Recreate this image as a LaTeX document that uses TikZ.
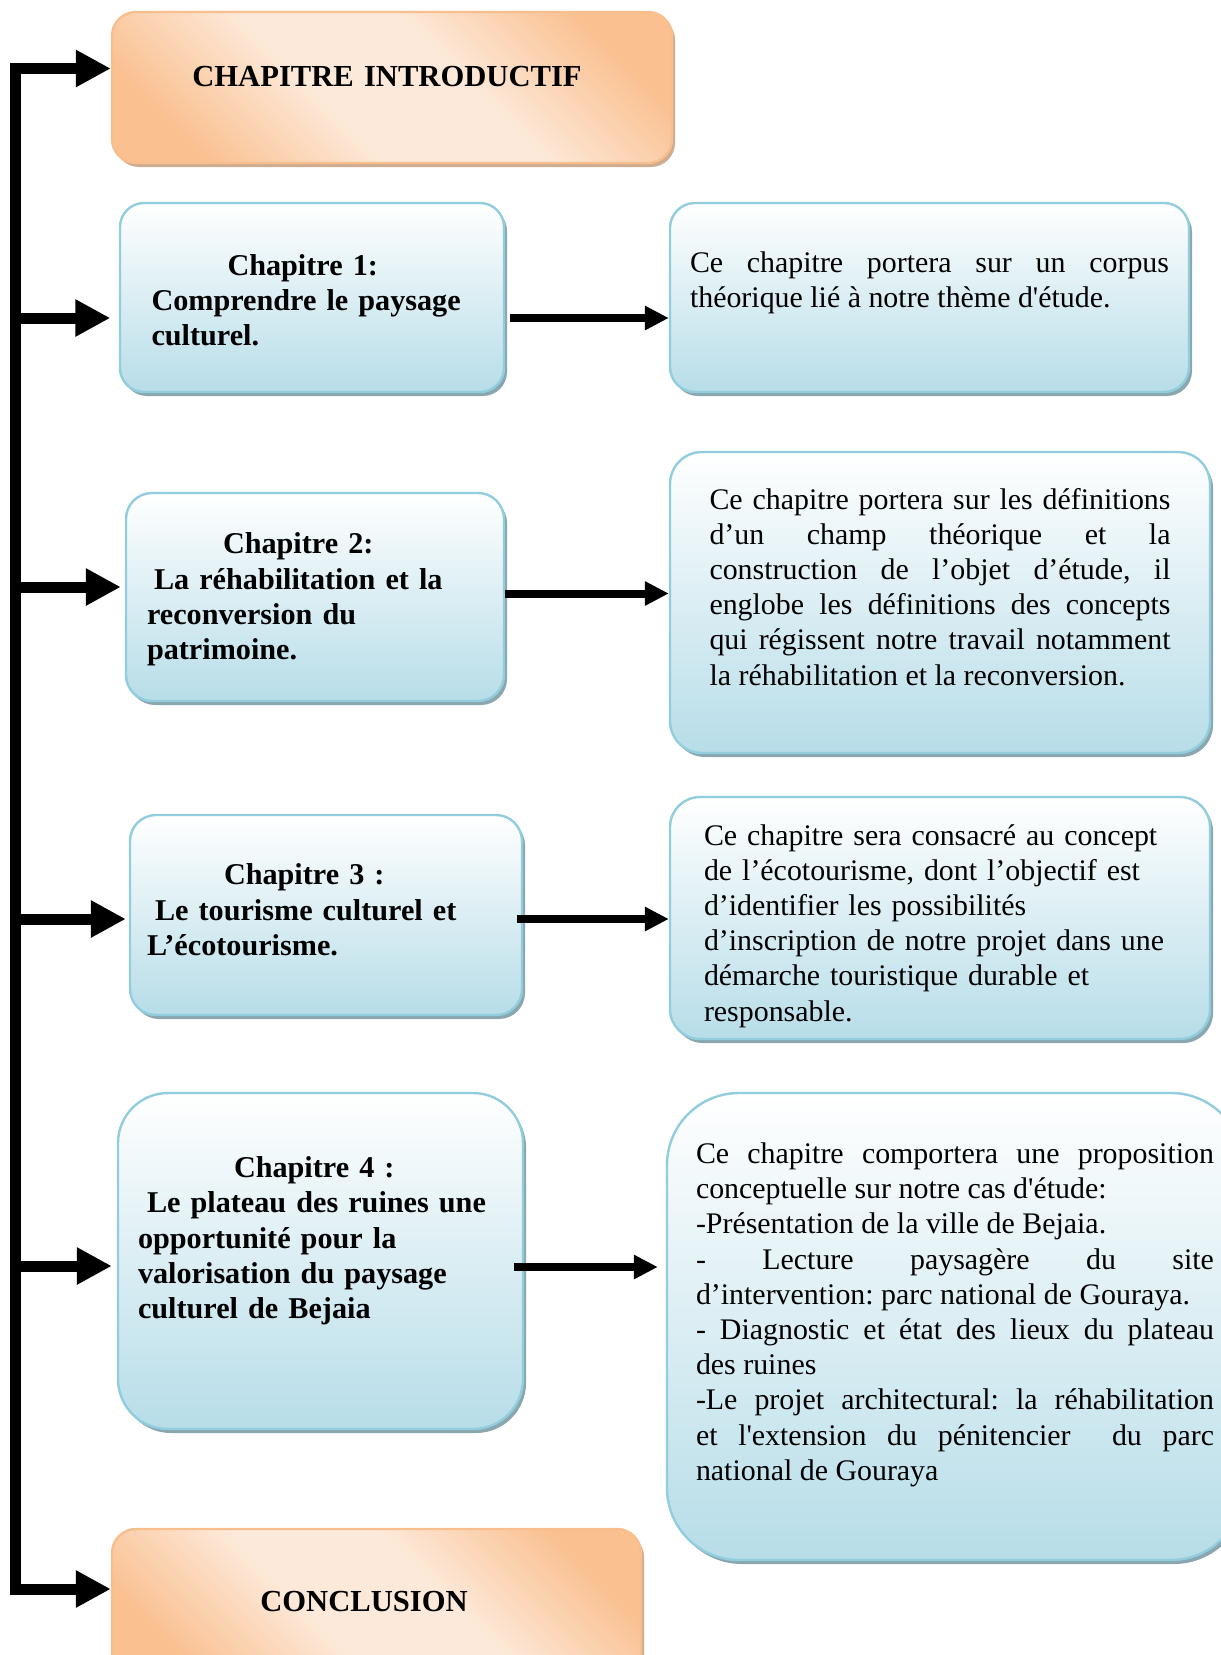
\documentclass[tikz,border=0pt]{standalone}
\usepackage{fontspec}
\setmainfont{Liberation Serif}[Ligatures=TeXOff]
\usetikzlibrary{calc,shadows,arrows.meta}

\definecolor{boxline}{RGB}{146,205,221}
\definecolor{boxblue}{RGB}{183,221,232}
\definecolor{boxshade}{RGB}{138,166,175}
\definecolor{peachline}{RGB}{249,190,142}
\definecolor{peachdark}{RGB}{250,192,144}
\definecolor{peachlight}{RGB}{253,233,217}
\definecolor{peachshade}{RGB}{206,172,146}

\pgfdeclarehorizontalshading{peachglow}{100bp}{color(0bp)=(peachdark); color(24bp)=(peachdark); color(42bp)=(peachlight); color(58bp)=(peachlight); color(76bp)=(peachdark); color(100bp)=(peachdark)}

\newcommand{\padbelow}[1]{\rule[-#1]{0pt}{0pt}}
\newcommand{\padabove}[1]{\rule{0pt}{#1}}
\newcommand{\sumfont}{\fontsize{14.95}{17.6}\selectfont\frenchspacing\hyphenpenalty10000\relax}
\newcommand{\chapfont}{\fontsize{15.1}{17.6}\selectfont\bfseries\frenchspacing\hyphenpenalty10000\relax}

\tikzset{boxbase/.style={rectangle, line width=1.2pt, align=left, inner ysep=0pt, font=\sumfont},
  chapbox/.style={boxbase, draw=boxline, top color=white, bottom color=boxblue, font=\chapfont,
    drop shadow={shadow xshift=1.5pt, shadow yshift=-2pt, fill=boxshade, opacity=1}},
  sumbox/.style={boxbase, draw=boxline, top color=white, bottom color=boxblue, align=justify,
    drop shadow={shadow xshift=1.5pt, shadow yshift=-2pt, fill=boxshade, opacity=1}},
  endbox/.style={boxbase, draw=peachline, shading=peachglow, shading angle=45, align=center, rounded corners=12pt,
    font=\fontsize{15.3}{17.6}\selectfont\bfseries,
    drop shadow={shadow xshift=1.5pt, shadow yshift=-2pt, fill=peachshade, opacity=1}},
  trunk/.style={line width=5.5pt, line cap=rect},
  feed/.style={line width=5.5pt, -{Triangle[length=17.5pt, width=17.5pt]}},
  link/.style={line width=4pt, -{Triangle[length=12pt, width=11.5pt]}}}

\begin{document}
\begin{tikzpicture}[x=0.5pt, y=-0.5pt]
    \useasboundingbox (0,0) rectangle (1221,1655);
    \clip (0,0) rectangle (1221,1655);
    % left column
    \node[endbox, text width=250pt, inner xsep=15pt, minimum height=75.5pt] (intro) at (392,87.5) {\hspace*{-5pt}CHAPITRE INTRODUCTIF\padbelow{11pt}};
    \node[chapbox, text width=160.5pt, inner xsep=15.75pt, minimum height=94.5pt, rounded corners=12pt] (ch1) at (312,297.5) {\hspace*{38pt}\padabove{13pt}Chapitre 1:\\ Comprendre le paysage\\ culturel.};
    \node[chapbox, text width=168pt, inner xsep=10.5pt, minimum height=104pt, rounded corners=13pt] (ch2) at (315,597) {\hspace*{38pt}\padabove{13pt}Chapitre 2:\\ \hspace*{3.5pt}La réhabilitation et la\\ reconversion du\\ patrimoine.};
    \node[chapbox, text width=179pt, inner xsep=8.5pt, minimum height=100pt, rounded corners=13pt] (ch3) at (326,915) {\hspace*{38.5pt}Chapitre 3 :\\ \hspace*{4pt}Le tourisme culturel et\\ L’écotourisme.\padbelow{5.3pt}};
    \node[chapbox, text width=182.5pt, inner xsep=10pt, minimum height=168pt, rounded corners=25pt] (ch4) at (320.5,1261) {\hspace*{48pt}Chapitre 4 :\\ \hspace*{4.5pt}Le plateau des ruines une\\ opportunité pour la\\ valorisation du paysage\\ culturel de Bejaia\padbelow{23.3pt}};
    \node[endbox, text width=234.5pt, inner xsep=15pt, minimum height=75.5pt] (concl) at (376.5,1604.5) {\hspace*{-12.5pt}CONCLUSION\padbelow{3pt}};
    % right column
    \node[sumbox, text width=239.5pt, inner xsep=10pt, minimum height=94.5pt, rounded corners=12.5pt] (sum1) at (929.5,297.5) {Ce chapitre portera sur un corpus\linebreak théorique lié à notre thème d'étude.\padbelow{18pt}};
    \node[sumbox, text width=230.5pt, inner xsep=19.75pt, minimum height=150.5pt, rounded corners=16pt] (sum2) at (940,602.5) {Ce chapitre portera sur les définitions\linebreak d’un champ théorique et la\linebreak construction de l’objet d’étude, il\linebreak englobe les définitions des concepts\linebreak qui régissent notre travail notamment\linebreak la réhabilitation et la reconversion.\padbelow{16pt}};
    \node[sumbox, align=left, text width=236pt, inner xsep=17pt, minimum height=121pt, rounded corners=15pt] (sum3) at (940,918) {\padabove{18.3pt}Ce chapitre sera consacré au concept\\ de l’écotourisme, dont l’objectif est\\ d’identifier les possibilités\\ d’inscription de notre projet dans une\\ démarche touristique durable et\\ responsable.};
    \node[sumbox, text width=259pt, inner xsep=14.5pt, minimum height=233.5pt, rounded corners=36pt] (sum4) at (955,1326.5) {Ce chapitre comportera une proposition\linebreak conceptuelle sur notre cas d'étude:\\ -Présentation de la ville de Bejaia.\\ - Lecture paysagère du site\linebreak d’intervention: parc national de Gouraya.\\ - Diagnostic et état des lieux du plateau\linebreak des ruines\\ -Le projet architectural: la réhabilitation\linebreak et l'extension du pénitencier \ du parc\linebreak national de Gouraya\padbelow{14.9pt}};
    % trunk and arrows
    \coordinate (tk0) at (15,68.5);
    \coordinate (tk1) at (15,318);
    \coordinate (tk2) at (15,587);
    \coordinate (tk3) at (15,919);
    \coordinate (tk4) at (15,1266);
    \coordinate (tk5) at (15,1589);
    \draw[trunk] (tk0) -- (tk5);
    \draw[feed] (tk0) -- (intro.west |- tk0);
    \draw[feed] (tk1) -- ($(ch1.west |- tk1)+(-8.5,0)$);
    \draw[feed] (tk2) -- ($(ch2.west |- tk2)+(-4,0)$);
    \draw[feed] (tk3) -- ($(ch3.west |- tk3)+(-3,0)$);
    \draw[feed] (tk4) -- ($(ch4.west |- tk4)+(-5,0)$);
    \draw[feed] (tk5) -- (concl.west |- tk5);
    \coordinate (r1) at (0,318);
    \coordinate (r2) at (0,593.5);
    \coordinate (r3) at (0,919);
    \coordinate (r4) at (0,1267);
    \draw[link] ($(ch1.east |- r1)+(5,0)$) -- (sum1.west |- r1);
    \draw[link] (ch2.east |- r2) -- (sum2.west |- r2);
    \draw[link] ($(ch3.east |- r3)+(-6,0)$) -- (sum3.west |- r3);
    \draw[link] ($(ch4.east |- r4)+(-10,0)$) -- ($(sum4.west |- r4)+(-8,0)$);
\end{tikzpicture}
\end{document}
